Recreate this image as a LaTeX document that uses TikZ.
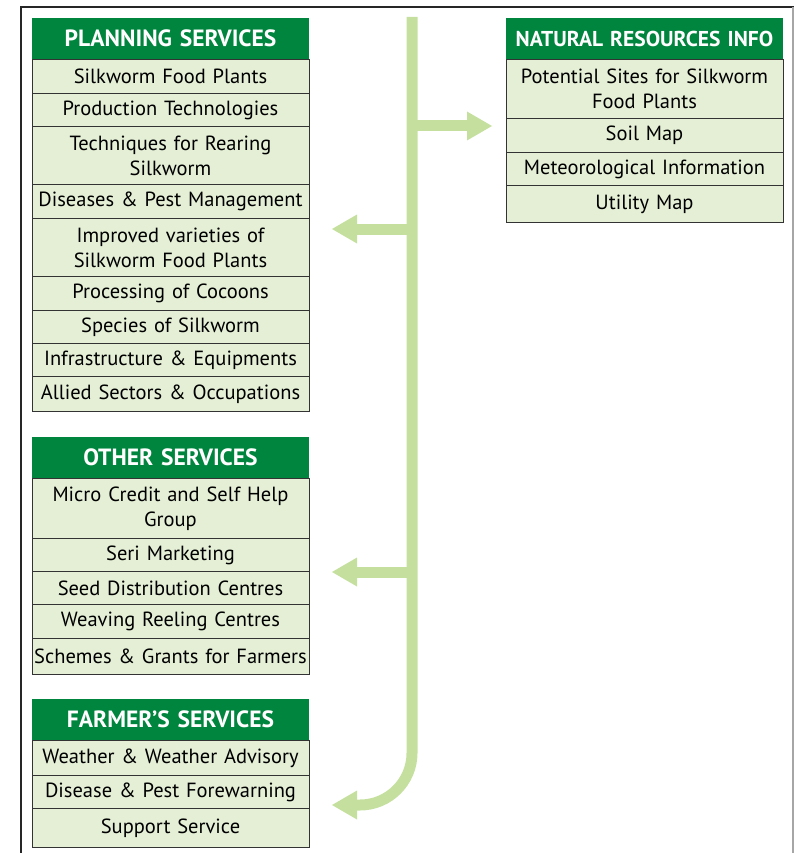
\documentclass[tikz,border=0pt]{standalone}
\usepackage{fontspec}
\setmainfont[WordSpace=0.9]{PT Sans}
\usetikzlibrary{positioning,arrows.meta}

\definecolor{hdrgreen}{RGB}{0,133,62}
\definecolor{rowgreen}{RGB}{228,239,214}
\definecolor{arrgreen}{RGB}{197,224,158}

\tikzset{
    hdr/.style={fill=hdrgreen, text=white, font=\fontsize{23.5}{27}\selectfont\bfseries,
        text width=275pt, align=center, inner xsep=1pt, inner ysep=0pt,
        minimum height=41.5pt, outer sep=0pt},
    row/.style={fill=rowgreen, draw=black!80, line width=0.8pt,
        font=\fontsize{20.5}{25}\selectfont, text width=275pt, align=center,
        inner xsep=1pt, inner ysep=0pt, outer sep=0pt},
    arr/.style={draw=arrgreen, line width=11pt,
        -{Triangle[width=29pt,length=25pt,line width=0pt]}},
}

\begin{document}
\begin{tikzpicture}[x=1pt,y=-1pt]
    \useasboundingbox (0,0) rectangle (794,853);
    % page frame
    \draw[black!85,line width=1.2pt] (21,853) -- (21,7) -- (794,7);
    \draw[black!35,line width=1.2pt] (793,7) -- (793,853);

    % planning services
    \node[hdr,anchor=north west] (pl0) at (32,18) {PLANNING SERVICES};
    \foreach \t/\h [count=\i, remember=\i as \j (initially 0)] in {
        Silkworm Food Plants/34, Production Technologies/33,
        {Techniques for Rearing\\Silkworm}/58, Diseases \& Pest Management/34,
        {Improved varieties of\\Silkworm Food Plants}/58, Processing of Cocoons/34,
        Species of Silkworm/33, Infrastructure \& Equipments/33,
        Allied Sectors \& Occupations/35}{
        \node[row,minimum height=\h pt,below=0pt of pl\j] (pl\i) {\t};
    }

    % natural resources
    \node[hdr,anchor=north west,font=\fontsize{21.5}{25}\selectfont\bfseries]
        (nr0) at (506,18) {NATURAL RESOURCES INFO};
    \foreach \t/\h [count=\i, remember=\i as \j (initially 0)] in {
        {Potential Sites for Silkworm\\Food Plants}/59, Soil Map/34,
        Meteorological Information/33, Utility Map/37}{
        \node[row,minimum height=\h pt,below=0pt of nr\j] (nr\i) {\t};
    }

    % other services
    \node[hdr,anchor=north west] (ot0) at (32,437) {OTHER SERVICES};
    \foreach \t/\h [count=\i, remember=\i as \j (initially 0)] in {
        {Micro Credit and Self Help\\Group}/60, Seri Marketing/33,
        Seed Distribution Centres/33, Weaving Reeling Centres/34,
        Schemes \& Grants for Farmers/36}{
        \node[row,minimum height=\h pt,below=0pt of ot\j] (ot\i) {\t};
    }

    % farmer's services
    \node[hdr,anchor=north west] (fs0) at (32,699) {FARMER’S SERVICES};
    \foreach \t/\h [count=\i, remember=\i as \j (initially 0)] in {
        Weather \& Weather Advisory/35, Disease \& Pest Forewarning/33,
        Support Service/39}{
        \node[row,minimum height=\h pt,below=0pt of fs\j] (fs\i) {\t};
    }

    % trunk and arrows
    \coordinate (trunktop) at (412,17);
    \coordinate (trunkbot) at (412,805);
    \coordinate (nrtip) at (492,126);
    \coordinate (pltip) at (332,229);
    \coordinate (ottip) at (332,572);
    \coordinate (fstip) at (332,805);
    \draw[arr,rounded corners=52pt] (trunktop) -- (trunkbot) -- (fstip);
    \draw[arr] (nrtip -| trunktop) -- (nrtip);
    \draw[arr] (pltip -| trunktop) -- (pltip);
    \draw[arr] (ottip -| trunktop) -- (ottip);
\end{tikzpicture}
\end{document}
